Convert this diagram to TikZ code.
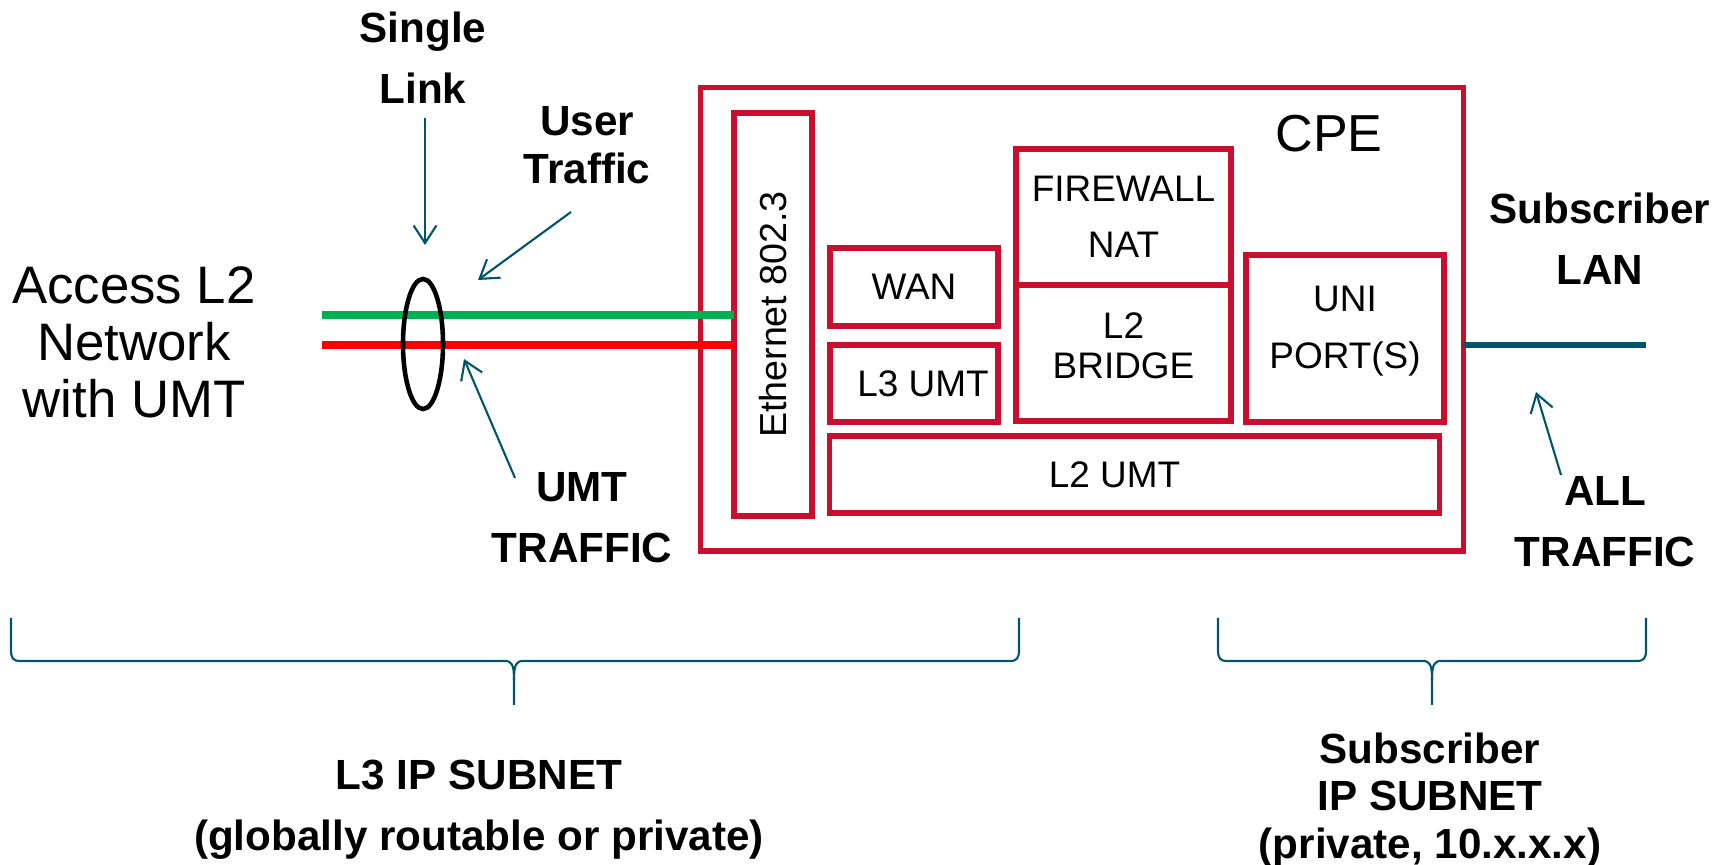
\documentclass[tikz,border=0pt]{standalone}
\usepackage{fontspec}
\setmainfont{Liberation Sans}
\usetikzlibrary{shapes.geometric, arrows.meta, positioning, calc}

\definecolor{cpered}{RGB}{200,16,46}
\definecolor{linkteal}{RGB}{0,85,105}
\definecolor{usergreen}{RGB}{0,176,80}
\definecolor{umtred}{RGB}{255,0,0}

\begin{document}
\begin{tikzpicture}[
    x=0.01cm, y=-0.01cm,
    block/.style={
        rectangle, draw=cpered, line width=1.5pt,
        outer sep=0pt, inner sep=0pt, align=center,
        font=\fontsize{10.5}{16}\selectfont
    },
    callout/.style={
        align=center,
        font=\fontsize{12}{17.4}\selectfont\bfseries
    },
    tightcallout/.style={
        callout,
        font=\fontsize{12}{13.5}\selectfont\bfseries
    },
    pointer/.style={
        -{Straight Barb[length=5pt,width=6.5pt]},
        draw=linkteal, line width=0.6pt
    },
    trunk/.style={
        line width=2pt
    },
    subnetbrace/.style={
        draw=linkteal, line width=0.6pt
    }
]

\useasboundingbox (0,0) rectangle (1728,865);

% CPE
\node[block, minimum width=7.62cm, minimum height=4.63cm] (cpe) at (1082,319.5) {};
\node[font=\fontsize{14.8}{18}\selectfont] (cpelabel) at (1329,134) {CPE};

% Ethernet port
\node[block, minimum width=0.78cm, minimum height=4.03cm] (eth) at (773,314.5) {};
\node[rotate=90, font=\fontsize{10.7}{13}\selectfont] (ethlabel) at (eth) {Ethernet 802.3};

% Inner blocks
\node[block, minimum width=1.68cm, minimum height=0.78cm] (wan) at (914,287) {WAN};
\node[block, minimum width=1.68cm, minimum height=0.77cm, below=0.19cm of wan] (l3umt) {\hspace{0.18cm}L3 UMT};
\node[block, minimum width=2.15cm, minimum height=1.36cm] (firewall) at (1123.5,217) {FIREWALL\\NAT};
\node[block, minimum width=2.15cm, minimum height=1.36cm, below=0pt of firewall, text depth=4pt,
      font=\fontsize{10.5}{11.4}\selectfont] (bridge) {L2\\BRIDGE};
\node[block, minimum width=1.98cm, minimum height=1.67cm, text depth=6.4pt] (uni) at (1345,338.5) {UNI\\PORT(S)};
\node[block, minimum width=6.09cm, minimum height=0.77cm] (l2umt) at (1134.5,474.5) {L2 UMT\hspace{0.4cm}};

% Access side
\node[align=center, font=\fontsize{15}{16.2}\selectfont] (access) at (134,342) {Access L2\\Network\\with UMT};
\coordinate (greenstart) at (322,315);
\coordinate (redstart) at (322,345);
\draw[trunk, usergreen] (greenstart) -- (greenstart -| eth.west);
\draw[trunk, umtred] (redstart) -- (redstart -| eth.west);
\node[ellipse, draw=black, line width=1.3pt, minimum width=0.4cm, minimum height=1.3cm, inner sep=0pt] (bundle) at (423,344) {};

% LAN side
\coordinate (lanend) at (1646,345);
\draw[linkteal, line width=1.6pt] (lanend -| cpe.east) -- (lanend);

% Labels
\node[callout] (singlelink) at (423,58) {Single\\Link};
\node[tightcallout] (usertraffic) at (587,145) {User\\Traffic};
\node[callout] (umttraffic) at (582,518) {UMT\\TRAFFIC};
\node[callout] (sublan) at (1600,239) {Subscriber\\LAN};
\node[callout] (alltraffic) at (1605,522) {ALL\\TRAFFIC};
\node[callout] (l3subnet) at (479,810) {L3 IP SUBNET\\(globally routable or private)};
\node[tightcallout] (subsubnet) at (1430,800) {Subscriber\\IP SUBNET\\(private, 10.x.x.x)};

% Arrows
\coordinate (sltail) at (425,118);
\coordinate (slhead) at (425,245);
\coordinate (uttail) at (571,212);
\coordinate (uthead) at (478,280);
\coordinate (umttail) at (515,478);
\coordinate (umthead) at (464,359);
\coordinate (alltail) at (1561,475);
\coordinate (allhead) at (1536,392);
\draw[pointer] (sltail) -- (slhead);
\draw[pointer] (uttail) -- (uthead);
\draw[pointer] (umttail) -- (umthead);
\draw[pointer] (alltail) -- (allhead);

% Braces
\draw[subnetbrace] (11,618) -- (11,650) .. controls (11,658) and (13,661) .. (20,661) -- (505,661)
    .. controls (512,661) and (514,665) .. (514,680) -- (514,705);
\draw[subnetbrace] (514,680) .. controls (514,665) and (516,661) .. (523,661) -- (1010,661)
    .. controls (1017,661) and (1019,658) .. (1019,650) -- (1019,618);
\draw[subnetbrace] (1218,618) -- (1218,650) .. controls (1218,658) and (1220,661) .. (1227,661) -- (1423,661)
    .. controls (1430,661) and (1432,665) .. (1432,680) -- (1432,705);
\draw[subnetbrace] (1432,680) .. controls (1432,665) and (1434,661) .. (1441,661) -- (1637,661)
    .. controls (1644,661) and (1646,658) .. (1646,650) -- (1646,618);

\end{tikzpicture}
\end{document}
